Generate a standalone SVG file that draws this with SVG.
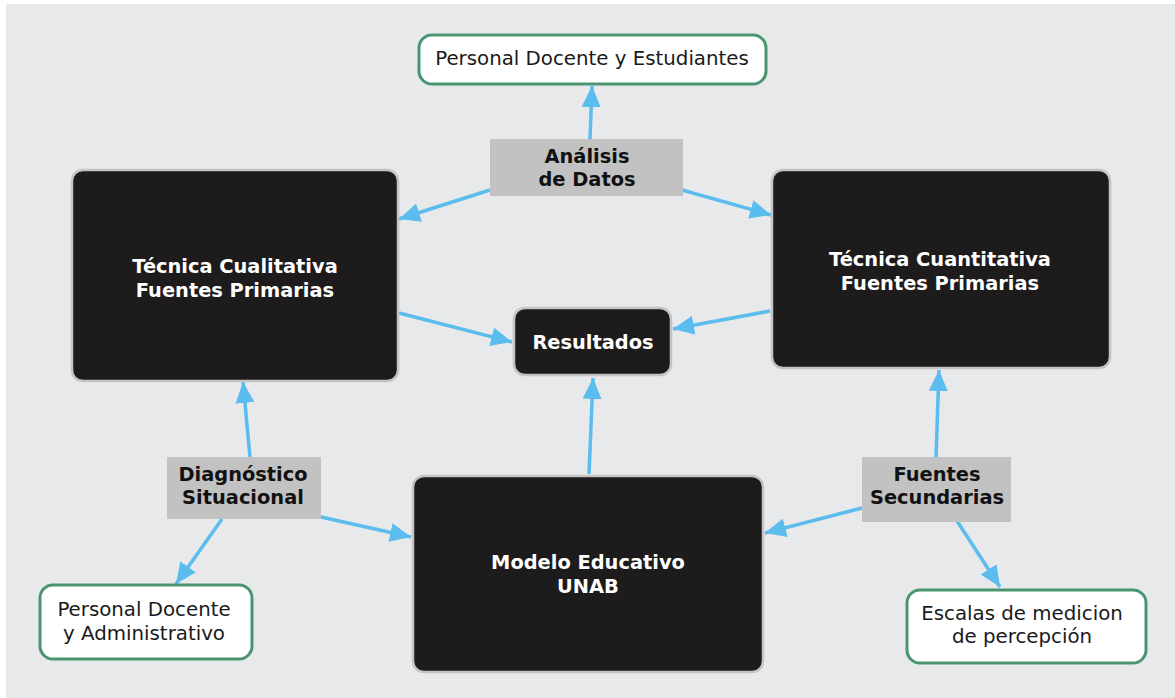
<svg xmlns="http://www.w3.org/2000/svg" width="1175" height="698" viewBox="0 0 1175 698">
<defs>
<style>
.bg{fill:#e8e9eb}
.dark{fill:#1d1b1c;stroke:#c4c4c4;stroke-width:2.5}
.lbl{fill:#c2c2c2}
.green{fill:#ffffff;stroke:#4a9570;stroke-width:3}
.wt{font-family:"DejaVu Sans",Verdana,sans-serif;font-weight:bold;font-size:19.4px;fill:#ffffff;text-anchor:middle}
.bt{font-family:"DejaVu Sans",Verdana,sans-serif;font-weight:bold;font-size:19.4px;fill:#111111;text-anchor:middle}
.rt{font-family:"DejaVu Sans",Verdana,sans-serif;font-size:19.8px;fill:#1a1a1a;text-anchor:middle}
.edge{stroke:#5bbcee;stroke-width:3.5;fill:none;marker-end:url(#arr)}
</style>
<marker id="arr" viewBox="0 0 10 10" refX="10" refY="5" markerUnits="userSpaceOnUse" markerWidth="21" markerHeight="19" preserveAspectRatio="none" orient="auto">
<path d="M0,0 L10,5 L0,10 z" fill="#5bbcee"/>
</marker>
</defs>
<rect x="0" y="0" width="1175" height="698" fill="#ffffff"/>
<rect class="bg" x="6" y="4" width="1169" height="694"/>

<g id="connectors">
<line class="edge" x1="590" y1="139" x2="592" y2="86"/>
<line class="edge" x1="490" y1="190" x2="399" y2="219"/>
<line class="edge" x1="682" y1="190" x2="771" y2="215"/>
<line class="edge" x1="399" y1="313" x2="512" y2="342"/>
<line class="edge" x1="770" y1="311" x2="673" y2="329"/>
<line class="edge" x1="589" y1="474" x2="593" y2="378"/>
<line class="edge" x1="250" y1="457" x2="243" y2="382"/>
<line class="edge" x1="321" y1="517" x2="411" y2="537"/>
<line class="edge" x1="222" y1="519" x2="176" y2="584"/>
<line class="edge" x1="936" y1="457" x2="939" y2="370"/>
<line class="edge" x1="862" y1="508" x2="765" y2="533"/>
<line class="edge" x1="957" y1="521" x2="1000" y2="587"/>
</g>

<g id="personal-docente-estudiantes">
<rect class="green" x="419" y="35" width="347" height="49" rx="13"/>
<text class="rt" x="592" y="65">Personal Docente y Estudiantes</text>
</g>

<g id="analisis-datos">
<rect class="lbl" x="490" y="139" width="193" height="57"/>
<text class="bt" x="587" y="163">Análisis</text>
<text class="bt" x="587" y="186">de Datos</text>
</g>

<g id="tecnica-cualitativa">
<rect class="dark" x="72" y="170" width="326" height="211" rx="11"/>
<text class="wt" x="235" y="273">Técnica Cualitativa</text>
<text class="wt" x="235" y="297">Fuentes Primarias</text>
</g>

<g id="tecnica-cuantitativa">
<rect class="dark" x="772" y="170" width="338" height="198" rx="11"/>
<text class="wt" x="940" y="266">Técnica Cuantitativa</text>
<text class="wt" x="940" y="290">Fuentes Primarias</text>
</g>

<g id="resultados">
<rect class="dark" x="514" y="308" width="157" height="67" rx="11"/>
<text class="wt" x="593" y="349">Resultados</text>
</g>

<g id="modelo-educativo">
<rect class="dark" x="413" y="476" width="350" height="196" rx="11"/>
<text class="wt" x="588" y="569">Modelo Educativo</text>
<text class="wt" x="588" y="593">UNAB</text>
</g>

<g id="diagnostico-situacional">
<rect class="lbl" x="167" y="457" width="154" height="62"/>
<text class="bt" x="243" y="481">Diagnóstico</text>
<text class="bt" x="243" y="504">Situacional</text>
</g>

<g id="fuentes-secundarias">
<rect class="lbl" x="862" y="457" width="149" height="65"/>
<text class="bt" x="937" y="481">Fuentes</text>
<text class="bt" x="937" y="504">Secundarias</text>
</g>

<g id="personal-docente-administrativo">
<rect class="green" x="40" y="585" width="212" height="74" rx="13"/>
<text class="rt" x="144" y="616">Personal Docente</text>
<text class="rt" x="144" y="640">y Administrativo</text>
</g>

<g id="escalas-medicion">
<rect class="green" x="907" y="590" width="239" height="73" rx="13"/>
<text class="rt" x="1022" y="620">Escalas de medicion</text>
<text class="rt" x="1022" y="643">de percepción</text>
</g>
</svg>
